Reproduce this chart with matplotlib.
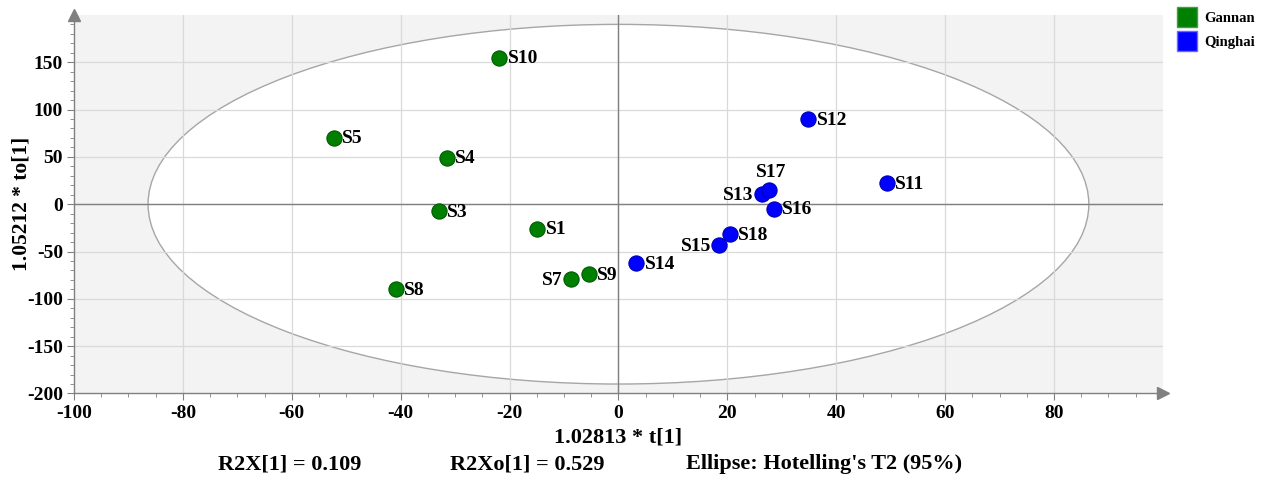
import matplotlib
matplotlib.use("Agg")
import matplotlib.pyplot as plt
from matplotlib.patches import Ellipse
from matplotlib.lines import Line2D
from matplotlib.ticker import FixedLocator

plt.rcParams["font.family"] = ["Liberation Serif", "DejaVu Serif"]
plt.rcParams["font.weight"] = "bold"
plt.rcParams["axes.unicode_minus"] = False

# scores
gannan_names = ["S1", "S3", "S4", "S5", "S7", "S8", "S9", "S10"]
gannan_t = [-14.9, -33.0, -31.5, -52.3, -8.8, -40.9, -5.5, -21.9]
gannan_to = [-25.7, -7.1, 49.3, 70.4, -79.3, -89.2, -74.0, 155.0]

qinghai_names = ["S11", "S12", "S13", "S14", "S15", "S16", "S17", "S18"]
qinghai_t = [49.3, 34.9, 26.3, 3.3, 18.5, 28.5, 27.7, 20.4]
qinghai_to = [22.5, 89.8, 10.6, -62.4, -42.7, -4.6, 15.4, -31.4]

ellipse_t = 86.4
ellipse_to = 190.0

# label side for each sample (default right)
left_labels = ["S7", "S13", "S15"]
top_labels = ["S17"]

GREEN = "#007f00"; BLUE = "#0000ff"; GRID = "#d9d9d9"; AXIS = "#808080"

fig = plt.figure(figsize=(12.72, 4.78), dpi=100)
ax = fig.add_axes([0.0582, 0.1768, 0.856, 0.792])
ax.set_xlim(-100, 100)
ax.set_ylim(-200, 200)
ax.set_facecolor("#f3f3f3")

ax.add_patch(Ellipse((0, 0), 2 * ellipse_t, 2 * ellipse_to, facecolor="white",
                     edgecolor="#a6a6a6", linewidth=1.0, zorder=0.2))

for gx in range(-80, 81, 20):
    ax.axvline(gx, color=GRID, linewidth=0.9, zorder=0.5)
for gy in range(-150, 151, 50):
    ax.axhline(gy, color=GRID, linewidth=0.9, zorder=0.5)
ax.axvline(0, color=AXIS, linewidth=1.0, zorder=0.6)
ax.axhline(0, color=AXIS, linewidth=1.0, zorder=0.6)

for sp in ["top", "right"]:
    ax.spines[sp].set_visible(False)
for sp in ["left", "bottom"]:
    ax.spines[sp].set_color(AXIS)
    ax.spines[sp].set_linewidth(1.0)
ax.plot(1, 0, ">", color=AXIS, markersize=9, transform=ax.transAxes, clip_on=False)
ax.plot(0, 1, "^", color=AXIS, markersize=9, transform=ax.transAxes, clip_on=False)

ax.xaxis.set_major_locator(FixedLocator(range(-100, 81, 20)))
ax.xaxis.set_minor_locator(FixedLocator([v for v in range(-95, 100, 5) if v % 20]))
ax.yaxis.set_major_locator(FixedLocator(range(-200, 151, 50)))
ax.yaxis.set_minor_locator(FixedLocator([v for v in range(-190, 200, 10) if v % 50]))
ax.tick_params(which="major", length=5, color=AXIS, labelsize=14, pad=3)
ax.tick_params(which="minor", length=3, color=AXIS)
for lab in ax.get_xticklabels() + ax.get_yticklabels():
    lab.set_fontweight("bold")

ax.scatter(gannan_t, gannan_to, s=120, color=GREEN, edgecolor="#005a00",
           linewidth=0.8, zorder=3)
ax.scatter(qinghai_t, qinghai_to, s=120, color=BLUE, edgecolor="#0000b0",
           linewidth=0.8, zorder=3)

def label(names, xs, ys):
    for n, x, y in zip(names, xs, ys):
        if n in left_labels:
            off, ha, va = (-6, -1), "right", "center"
        elif n in top_labels:
            off, ha, va = (1, 6), "center", "bottom"
        else:
            off, ha, va = (6, -1), "left", "center"
        ax.annotate(n, (x, y), xytext=off, textcoords="offset points",
                    ha=ha, va=va, fontsize=14, fontweight="bold", zorder=4)

label(gannan_names, gannan_t, gannan_to)
label(qinghai_names, qinghai_t, qinghai_to)

ax.set_xlabel("1.02813 * t[1]", fontsize=16, fontweight="bold", labelpad=4)
ax.set_ylabel("1.05212 * to[1]", fontsize=15.5, fontweight="bold")
ax.yaxis.set_label_coords(-0.039, 0.5)

fig.text(218 / 1272, 1 - 464 / 478, "R2X[1] = 0.109", fontsize=16,
         fontweight="bold", va="center")
fig.text(450 / 1272, 1 - 464 / 478, "R2Xo[1] = 0.529", fontsize=16,
         fontweight="bold", va="center")
fig.text(686 / 1272, 1 - 464 / 478, "Ellipse: Hotelling's T2 (95%)", fontsize=16,
         fontweight="bold", va="center")

handles = [Line2D([], [], marker="s", linestyle="", markersize=14, color=GREEN,
                  markeredgecolor="#4a9a4a", label="Gannan"),
           Line2D([], [], marker="s", linestyle="", markersize=14, color=BLUE,
                  markeredgecolor="#6a6aff", label="Qinghai")]
fig.legend(handles=handles, loc="upper left", bbox_to_anchor=(1168 / 1272, 1.0),
           frameon=False, prop={"weight": "bold", "size": 10.5},
           handlelength=1.0, handletextpad=0.7, labelspacing=0.75, borderaxespad=0.4)

fig.savefig("out.png", dpi=100, facecolor="white")
